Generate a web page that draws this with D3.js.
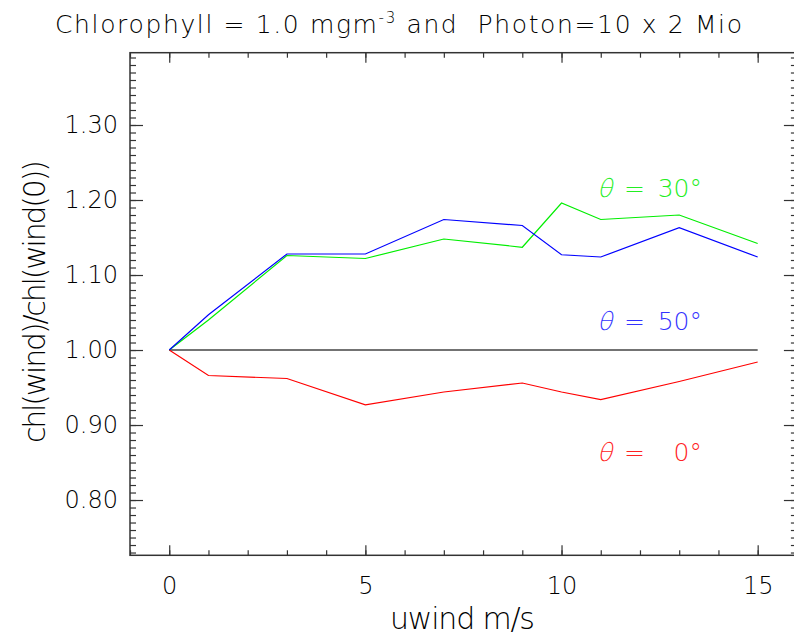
<!DOCTYPE html>
<html>
<head>
<meta charset="utf-8">
<script src="https://cdn.jsdelivr.net/npm/d3@7"></script>
<style>
  html, body { margin: 0; padding: 0; background: #fff; }
  svg text { font-family: "DejaVu Sans", sans-serif; font-weight: 200; white-space: pre; }
</style>
</head>
<body>
<svg id="chart" width="794" height="637"></svg>
<script>
// Wind speeds (m/s) at which the ratio was computed
const winds = [0, 1, 3, 5, 7, 9, 10, 11, 13, 15];
// chl(wind)/chl(wind(0)) for each sun zenith angle
const theta0  = [1.000, 0.966, 0.962, 0.927, 0.944, 0.956, 0.944, 0.934, 0.958, 0.984];
const theta30 = [1.000, 1.040, 1.126, 1.122, 1.148, 1.137, 1.196, 1.174, 1.180, 1.142];
const theta50 = [1.000, 1.047, 1.128, 1.128, 1.174, 1.166, 1.127, 1.124, 1.163, 1.124];
// Reference level (ratio = 1)
const refWinds = [0, 15];
const refValues = [1.0, 1.0];

const xMajorTicks = [0, 5, 10, 15];
const yMajorTicks = [0.80, 0.90, 1.00, 1.10, 1.20, 1.30];

const svg = d3.select("#chart");
const L = 130, R = 796.9, T = 52.7, B = 555.3;

const x = d3.scaleLinear().domain([-1, 16]).range([L, R]);
const y = d3.scaleLinear().domain([0.7263, 1.3964]).range([B, T]);

const axisColor = "#333";

function styleAxis(g) {
  g.select(".domain").remove();
  g.selectAll(".tick line").attr("stroke", axisColor).attr("stroke-width", 1.2);
  g.selectAll(".tick text").attr("fill", "#000").attr("font-size", 24)
    .attr("font-family", "DejaVu Sans").attr("font-weight", 200);
}

const xMinor = d3.range(-1, 17);
const yMinor = d3.range(73, 140).map(d => d / 100);

// bottom axis
svg.append("g").attr("transform", `translate(0,${B})`)
  .call(d3.axisBottom(x).tickValues(xMinor).tickSize(-5).tickFormat("")).call(styleAxis);
svg.append("g").attr("transform", `translate(0,${B})`)
  .call(d3.axisBottom(x).tickValues(xMajorTicks).tickSize(-10).tickPadding(22).tickFormat(d3.format("d")))
  .call(styleAxis);
// top axis
svg.append("g").attr("transform", `translate(0,${T})`)
  .call(d3.axisTop(x).tickValues(xMinor).tickSize(-5).tickFormat("")).call(styleAxis);
svg.append("g").attr("transform", `translate(0,${T})`)
  .call(d3.axisTop(x).tickValues(xMajorTicks).tickSize(-10).tickFormat("")).call(styleAxis);
// left axis
svg.append("g").attr("transform", `translate(${L},0)`)
  .call(d3.axisLeft(y).tickValues(yMinor).tickSize(-6).tickFormat("")).call(styleAxis);
svg.append("g").attr("transform", `translate(${L},0)`)
  .call(d3.axisLeft(y).tickValues(yMajorTicks).tickSize(-13).tickPadding(12).tickFormat(d3.format(".2f")))
  .call(styleAxis);
// right axis
svg.append("g").attr("transform", `translate(${R},0)`)
  .call(d3.axisRight(y).tickValues(yMinor).tickSize(-6).tickFormat("")).call(styleAxis);
svg.append("g").attr("transform", `translate(${R},0)`)
  .call(d3.axisRight(y).tickValues(yMajorTicks).tickSize(-13).tickFormat("")).call(styleAxis);

// frame
svg.append("rect").attr("x", L).attr("y", T).attr("width", R - L).attr("height", B - T)
  .attr("fill", "none").attr("stroke", axisColor).attr("stroke-width", 1.5);

const line = d3.line().x(d => x(d[0])).y(d => y(d[1]));

svg.append("path").datum(refWinds.map((w, i) => [w, refValues[i]]))
  .attr("d", line).attr("fill", "none").attr("stroke", "#444").attr("stroke-width", 1.6);

const series = [
  { values: theta0,  color: "#ff0000" },
  { values: theta30, color: "#00ee00" },
  { values: theta50, color: "#0000ff" }
];
series.forEach(s => {
  svg.append("path").datum(winds.map((w, i) => [w, s.values[i]]))
    .attr("d", line).attr("fill", "none").attr("stroke", s.color).attr("stroke-width", 1.2);
});

// curve labels: thin slanted theta, "=", angle value
const labels = [
  { text: "30°", color: "#22ee22", base: 197 },
  { text: "50°", color: "#3333ff", base: 330 },
  { text: "0°",  color: "#ff2222", base: 461 }
];
labels.forEach(l => {
  const g = svg.append("g").attr("fill", l.color);
  g.append("text").attr("transform", `translate(597,${l.base}) skewX(-14)`)
    .attr("font-size", 25).text("θ");
  g.append("text").attr("x", 624).attr("y", l.base).attr("font-size", 25).text("=");
  g.append("text").attr("x", 702).attr("y", l.base).attr("font-size", 25)
    .attr("text-anchor", "end").text(l.text);
});

// title
const title = svg.append("text").attr("x", 55).attr("y", 33).attr("font-size", 25)
  .attr("fill", "#000").attr("textLength", 687).attr("lengthAdjust", "spacing");
title.append("tspan").text("Chlorophyll = 1.0 mgm");
title.append("tspan").attr("font-size", 15).attr("dy", -10).text("-3");
title.append("tspan").attr("dy", 10).text(" and  Photon=10 x 2 Mio");

// axis titles
svg.append("text").attr("x", 390).attr("y", 629).attr("font-size", 30)
  .attr("fill", "#000").attr("textLength", 145).attr("lengthAdjust", "spacing").text("uwind m/s");
svg.append("text").attr("transform", "translate(45,443) rotate(-90)").attr("font-size", 30)
  .attr("fill", "#000").attr("textLength", 283).attr("lengthAdjust", "spacing")
  .text("chl(wind)/chl(wind(0))");
</script>
</body>
</html>
